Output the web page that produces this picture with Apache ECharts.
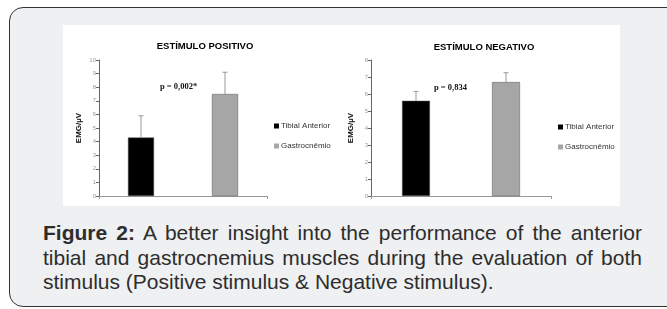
<!DOCTYPE html>
<html>
<head>
<meta charset="utf-8">
<script src="https://cdn.jsdelivr.net/npm/echarts@6/dist/echarts.min.js"></script>
<style>
  html, body { margin: 0; padding: 0; background: #fff; overflow: hidden; }
  body { width: 667px; height: 309px; position: relative; }
  #frame {
    position: absolute; left: 9px; top: 7px; width: 700px; height: 298px;
    border: 1.5px solid #333; border-radius: 14px; background: #eff0f2;
  }
  #main { position: absolute; left: 63px; top: 25px; width: 557px; height: 181px; background: #fff; }
  #caption {
    position: absolute; left: 43px; top: 221px; width: 599px;
    font-family: "Liberation Sans", Arial, sans-serif; font-size: 21px;
    line-height: 24.5px; color: #2d2d2d;
  }
  #caption .j { text-align: justify; text-align-last: justify; white-space: nowrap; }
</style>
</head>
<body>
<div id="frame"></div>
<div id="main"></div>
<div id="caption">
  <div class="j"><b>Figure 2:</b> A better insight into the performance of the anterior</div>
  <div class="j">tibial and gastrocnemius muscles during the evaluation of both</div>
  <div>stimulus (Positive stimulus &amp; Negative stimulus).</div>
</div>
<script>
// values
const categories = ['Tibial Anterior', 'Gastrocnêmio'];
const posMean = [4.3, 7.5];
const posSd = [1.6, 1.6];
const negMean = [5.6, 6.7];
const negSd = [0.55, 0.55];
const posTicks = [0, 10, 1];   // min, max, interval
const negTicks = [0, 8, 1];

const chart = echarts.init(document.getElementById('main'));
const font = '"Liberation Sans", Arial, sans-serif';
const barColors = ['#000000', '#a6a6a6'];

function oneBar(mean, i) {
  return mean.map((v, k) => (k === i ? v : '-'));
}

function errorData(mean, sd) {
  return mean.map((v, k) => [k, v, v + sd[k]]);
}

function renderError(params, api) {
  const base = api.coord([api.value(0), api.value(1)]);
  const top = api.coord([api.value(0), api.value(2)]);
  const style = { stroke: '#999', lineWidth: 1 };
  return {
    type: 'group',
    children: [
      { type: 'line', shape: { x1: base[0], y1: base[1], x2: top[0], y2: top[1] }, style: style },
      { type: 'line', shape: { x1: top[0] - 2.5, y1: top[1], x2: top[0] + 2.5, y2: top[1] }, style: style }
    ]
  };
}

function xAxis(gridIndex) {
  return {
    type: 'category', gridIndex: gridIndex, data: categories,
    axisLine: { lineStyle: { color: '#999', width: 1 } },
    axisTick: { show: true, length: 3, lineStyle: { color: '#999' } },
    axisLabel: { show: false }
  };
}

function yAxis(gridIndex, ticks) {
  return {
    type: 'value', gridIndex: gridIndex, min: ticks[0], max: ticks[1], interval: ticks[2],
    name: 'EMG/µV', nameLocation: 'middle', nameGap: 16,
    nameTextStyle: { fontFamily: font, fontSize: 8, fontWeight: 'bold', color: '#111' },
    axisLine: { show: true, lineStyle: { color: '#666', width: 1 } },
    axisTick: { show: true, length: 3, lineStyle: { color: '#666' } },
    axisLabel: { fontFamily: font, fontSize: 6, color: '#999', margin: 3 },
    splitLine: { show: false }
  };
}

function barSeries(idx, mean) {
  return categories.map((name, i) => ({
    name: name, type: 'bar', stack: 's' + idx,
    xAxisIndex: idx, yAxisIndex: idx,
    data: oneBar(mean, i), barWidth: '31%',
    itemStyle: { color: barColors[i], borderColor: '#555', borderWidth: 0.5 }
  }));
}

function legend(left, top) {
  return {
    left: left, top: top, padding: 0, orient: 'vertical', itemWidth: 5, itemHeight: 5, itemGap: 12,
    icon: 'rect', data: categories, itemStyle: { borderWidth: 0 },
    textStyle: { fontFamily: font, fontSize: 8, color: '#333', padding: [0, 0, 0, -3] }
  };
}

const option = {
  animation: false,
  backgroundColor: '#fff',
  title: [
    { text: 'ESTÍMULO POSITIVO', left: 137, top: 11, textAlign: 'center',
      textStyle: { fontFamily: font, fontSize: 9.5, fontWeight: 'bold', color: '#000' } },
    { text: 'ESTÍMULO NEGATIVO', left: 416, top: 12, textAlign: 'center',
      textStyle: { fontFamily: font, fontSize: 9.5, fontWeight: 'bold', color: '#000' } }
  ],
  legend: [legend(211, 97), legend(495, 98)],
  grid: [
    { left: 36, top: 35, width: 168, height: 136 },
    { left: 308, top: 35, width: 180, height: 136 }
  ],
  xAxis: [xAxis(0), xAxis(1)],
  yAxis: [yAxis(0, posTicks), yAxis(1, negTicks)],
  graphic: [
    { type: 'text', left: 97, top: 57,
      style: { text: 'p = 0,002*', font: 'bold 8.5px "Liberation Serif", serif', fill: '#111' } },
    { type: 'text', left: 371, top: 58,
      style: { text: 'p = 0,834', font: 'bold 8.5px "Liberation Serif", serif', fill: '#111' } }
  ],
  series: [
    ...barSeries(0, posMean),
    ...barSeries(1, negMean),
    { type: 'custom', xAxisIndex: 0, yAxisIndex: 0, renderItem: renderError,
      encode: { x: 0, y: [1, 2] }, data: errorData(posMean, posSd), z: 5 },
    { type: 'custom', xAxisIndex: 1, yAxisIndex: 1, renderItem: renderError,
      encode: { x: 0, y: [1, 2] }, data: errorData(negMean, negSd), z: 5 }
  ]
};

chart.setOption(option);
</script>
</body>
</html>
